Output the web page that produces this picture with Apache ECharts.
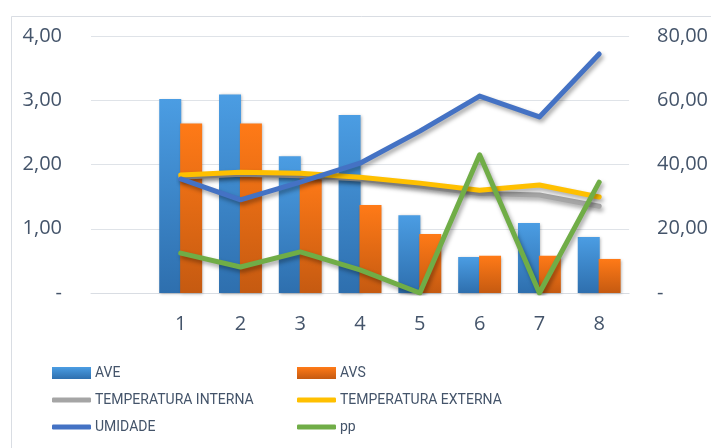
<!DOCTYPE html>
<html>
<head>
<meta charset="utf-8">
<script src="https://cdn.jsdelivr.net/npm/echarts@6/dist/echarts.min.js"></script>
<style>
html,body{margin:0;padding:0;background:#fff;}
#c{width:711px;height:448px;}
</style>
</head>
<body>
<div id="c"></div>
<script>
var categories = ['', '1', '2', '3', '4', '5', '6', '7', '8'];
var ave = [null, 3.02, 3.09, 2.13, 2.77, 1.21, 0.56, 1.09, 0.87];
var avs = [null, 2.64, 2.64, 1.85, 1.37, 0.92, 0.58, 0.58, 0.53];
var tempInterna = [null, 36.0, 37.0, 36.5, 35.5, 33.3, 31.0, 30.5, 27.0];
var tempExterna = [null, 36.7, 37.6, 37.3, 36.0, 34.2, 32.0, 33.6, 29.9];
var umidade = [null, 35.5, 29.0, 34.5, 40.4, 50.4, 61.3, 54.8, 74.4];
var pp = [null, 12.4, 8.1, 12.8, 7.2, 0.0, 43.0, 0.0, 34.5];
var leftTicks = [0, 1, 2, 3, 4];
var rightTicks = [0, 20, 40, 60, 80];

var textColor = '#44546a';
var axisFont = 'Open Sans';
var legendFont = 'Roboto';

function fmt(v) { return v === 0 ? '-' : v.toFixed(2).replace('.', ','); }

function barGrad(top, bottom) {
  return new echarts.graphic.LinearGradient(0, 0, 0, 1, [
    { offset: 0, color: top }, { offset: 1, color: bottom }
  ]);
}

function lineSeries(name, data, color, z) {
  return {
    name: name, type: 'line', yAxisIndex: 1, data: data,
    symbol: 'none', showSymbol: false, z: z,
    lineStyle: {
      color: color, width: 5, cap: 'round', join: 'round',
      shadowColor: 'rgba(0,0,0,0.35)', shadowBlur: 4, shadowOffsetX: 2, shadowOffsetY: 3
    },
    itemStyle: { color: color }
  };
}

function legendAt(name, left, centerY, h, icon) {
  return {
    data: [{ name: name, icon: icon }], left: left, top: centerY - 8,
    itemWidth: 39, itemHeight: h, itemGap: 4,
    textStyle: { fontFamily: legendFont, fontSize: 14, lineHeight: 16, color: textColor, padding: [0, 0, 0, -1] },
    padding: 0
  };
}

var chart = echarts.init(document.getElementById('c'), null, { renderer: 'canvas' });
chart.setOption({
  animation: false,
  backgroundColor: '#ffffff',
  graphic: [{
    type: 'rect', silent: true, z: -10,
    shape: { x: 11.5, y: 16.5, width: 900, height: 600 },
    style: { fill: 'none', stroke: '#d9dde3', lineWidth: 1 }
  }],
  grid: { left: 91, right: 80, top: 36, bottom: 155, containLabel: false },
  legend: [
    legendAt('AVE', 52, 373, 12, 'rect'),
    legendAt('AVS', 297, 373, 12, 'rect'),
    legendAt('TEMPERATURA INTERNA', 52, 400, 5, 'roundRect'),
    legendAt('TEMPERATURA EXTERNA', 297, 400, 5, 'roundRect'),
    legendAt('UMIDADE', 52, 427, 5, 'roundRect'),
    legendAt('pp', 297, 427, 5, 'roundRect')
  ],
  xAxis: {
    type: 'category', data: categories,
    axisLine: { show: true, lineStyle: { color: '#d9dde3', width: 1 } },
    axisTick: { show: false },
    axisLabel: { color: textColor, fontFamily: axisFont, fontSize: 20, margin: 21 },
    splitLine: { show: false }
  },
  yAxis: [{
    type: 'value', min: 0, max: 4, interval: 1,
    axisLine: { show: false }, axisTick: { show: false },
    axisLabel: { color: textColor, fontFamily: axisFont, fontSize: 20, margin: 29, formatter: fmt },
    splitLine: { show: true, lineStyle: { color: '#dfe3e8', width: 1 } }
  }, {
    type: 'value', min: 0, max: 80, interval: 20,
    axisLine: { show: false }, axisTick: { show: false },
    axisLabel: { color: textColor, fontFamily: axisFont, fontSize: 20, margin: 28, formatter: fmt },
    splitLine: { show: false }
  }],
  series: [{
    name: 'AVE', type: 'bar', yAxisIndex: 0, data: ave, barWidth: 22, barGap: '-5%', z: 2,
    itemStyle: {
      color: barGrad('#4b9de3', '#2e6fae'),
      shadowColor: 'rgba(0,0,0,0.3)', shadowBlur: 3, shadowOffsetX: 1, shadowOffsetY: 1
    }
  }, {
    name: 'AVS', type: 'bar', yAxisIndex: 0, data: avs, barWidth: 22, barGap: '-5%', z: 2,
    itemStyle: {
      color: barGrad('#ff7a17', '#c55a11'),
      shadowColor: 'rgba(0,0,0,0.3)', shadowBlur: 3, shadowOffsetX: 1, shadowOffsetY: 1
    }
  },
    lineSeries('TEMPERATURA INTERNA', tempInterna, '#a5a5a5', 3),
    lineSeries('TEMPERATURA EXTERNA', tempExterna, '#ffc000', 4),
    lineSeries('UMIDADE', umidade, '#4472c4', 5),
    lineSeries('pp', pp, '#70ad47', 6)
  ]
});
</script>
</body>
</html>
